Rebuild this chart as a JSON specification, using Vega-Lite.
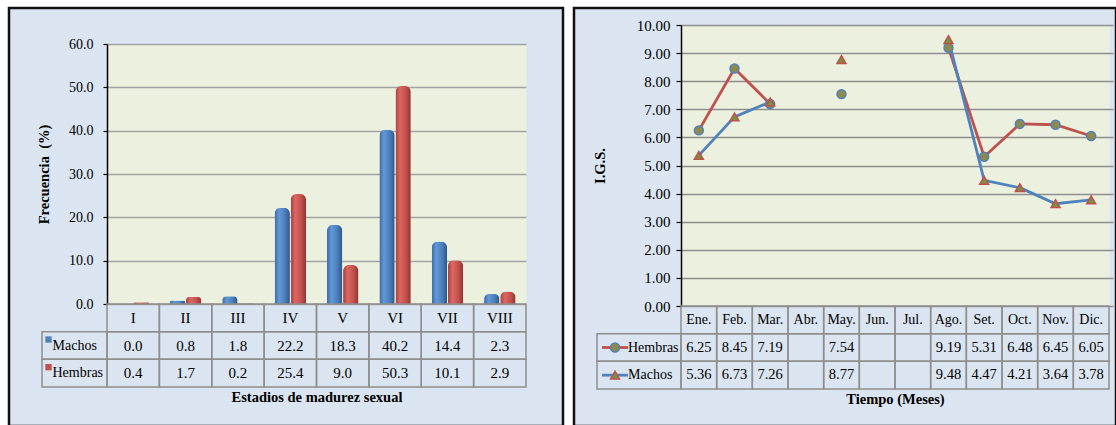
{
  "$schema": "https://vega.github.io/schema/vega-lite/v6.json",
  "background": "white",
  "padding": {"left": 7, "top": 5, "right": 0, "bottom": 0},
  "spacing": 11,
  "bounds": "flush",
  "config": {
    "view": {"fill": "#dbe5f1", "stroke": "#111111", "strokeWidth": 2.5},
    "font": "Liberation Serif",
    "axis": {
      "labelFont": "Liberation Serif",
      "titleFont": "Liberation Serif",
      "labelColor": "black",
      "titleColor": "black",
      "titleFontWeight": "bold",
      "domainColor": "black",
      "tickColor": "black",
      "grid": false
    },
    "text": {"font": "Liberation Serif", "color": "black"}
  },
  "datasets": {
    "madurez": [
      {"estadio": "I", "sexo": "Machos", "frecuencia": 0.0},
      {"estadio": "I", "sexo": "Hembras", "frecuencia": 0.4},
      {"estadio": "II", "sexo": "Machos", "frecuencia": 0.8},
      {"estadio": "II", "sexo": "Hembras", "frecuencia": 1.7},
      {"estadio": "III", "sexo": "Machos", "frecuencia": 1.8},
      {"estadio": "III", "sexo": "Hembras", "frecuencia": 0.2},
      {"estadio": "IV", "sexo": "Machos", "frecuencia": 22.2},
      {"estadio": "IV", "sexo": "Hembras", "frecuencia": 25.4},
      {"estadio": "V", "sexo": "Machos", "frecuencia": 18.3},
      {"estadio": "V", "sexo": "Hembras", "frecuencia": 9.0},
      {"estadio": "VI", "sexo": "Machos", "frecuencia": 40.2},
      {"estadio": "VI", "sexo": "Hembras", "frecuencia": 50.3},
      {"estadio": "VII", "sexo": "Machos", "frecuencia": 14.4},
      {"estadio": "VII", "sexo": "Hembras", "frecuencia": 10.1},
      {"estadio": "VIII", "sexo": "Machos", "frecuencia": 2.3},
      {"estadio": "VIII", "sexo": "Hembras", "frecuencia": 2.9}
    ],
    "igs": [
      {"mes": "Ene.", "sexo": "Hembras", "igs": 6.25},
      {"mes": "Feb.", "sexo": "Hembras", "igs": 8.45},
      {"mes": "Mar.", "sexo": "Hembras", "igs": 7.19},
      {"mes": "Abr.", "sexo": "Hembras", "igs": null},
      {"mes": "May.", "sexo": "Hembras", "igs": 7.54},
      {"mes": "Jun.", "sexo": "Hembras", "igs": null},
      {"mes": "Jul.", "sexo": "Hembras", "igs": null},
      {"mes": "Ago.", "sexo": "Hembras", "igs": 9.19},
      {"mes": "Set.", "sexo": "Hembras", "igs": 5.31},
      {"mes": "Oct.", "sexo": "Hembras", "igs": 6.48},
      {"mes": "Nov.", "sexo": "Hembras", "igs": 6.45},
      {"mes": "Dic.", "sexo": "Hembras", "igs": 6.05},
      {"mes": "Ene.", "sexo": "Machos", "igs": 5.36},
      {"mes": "Feb.", "sexo": "Machos", "igs": 6.73},
      {"mes": "Mar.", "sexo": "Machos", "igs": 7.26},
      {"mes": "Abr.", "sexo": "Machos", "igs": null},
      {"mes": "May.", "sexo": "Machos", "igs": 8.77},
      {"mes": "Jun.", "sexo": "Machos", "igs": null},
      {"mes": "Jul.", "sexo": "Machos", "igs": null},
      {"mes": "Ago.", "sexo": "Machos", "igs": 9.48},
      {"mes": "Set.", "sexo": "Machos", "igs": 4.47},
      {"mes": "Oct.", "sexo": "Machos", "igs": 4.21},
      {"mes": "Nov.", "sexo": "Machos", "igs": 3.64},
      {"mes": "Dic.", "sexo": "Machos", "igs": 3.78}
    ]
  },
  "hconcat": [
    {
      "width": 554,
      "height": 418,
      "data": {"name": "madurez"},
      "resolve": {"scale": {"x": "independent", "y": "independent", "xOffset": "independent"}},
      "layer": [
        {
          "transform": [{"filter": "datum.sexo === 'Machos'"}],
          "mark": {
            "type": "bar",
            "cornerRadiusTopLeft": 6,
            "cornerRadiusTopRight": 6,
            "color": {
              "gradient": "linear", "x1": 0, "y1": 0, "x2": 1, "y2": 0,
              "stops": [
                {"offset": 0, "color": "#3a6aa6"},
                {"offset": 0.3, "color": "#6398d8"},
                {"offset": 0.7, "color": "#4a7cb9"},
                {"offset": 1, "color": "#2c5689"}
              ]
            }
          },
          "encoding": {
            "x": {
              "field": "estadio", "type": "nominal", "sort": null,
              "scale": {"domain": ["I", "II", "III", "IV", "V", "VI", "VII", "VIII"], "range": [98, 517], "paddingInner": 0, "paddingOuter": 0},
              "axis": {"orient": "bottom", "offset": -122, "domain": false, "labels": false, "ticks": true, "tickSize": -260, "tickWidth": 54, "tickColor": "#ebf1de", "tickOpacity": 1, "bandPosition": 0.5, "title": null}
            },
            "xOffset": {"field": "sexo", "scale": {"domain": ["Machos", "Hembras"], "paddingInner": 0.05, "paddingOuter": 0.65}},
            "y": {
              "field": "frecuencia", "type": "quantitative",
              "scale": {"domain": [0, 60], "range": [296, 36], "nice": false},
              "axis": {"orient": "left", "offset": -98, "values": [0, 10, 20, 30, 40, 50, 60], "domain": false, "labels": false, "ticks": true, "tickSize": -419, "tickColor": "#a3a3a3", "tickWidth": 1.3, "tickOpacity": 1, "title": null}
            }
          }
        },
        {
          "transform": [{"filter": "datum.sexo === 'Hembras'"}],
          "mark": {
            "type": "bar",
            "cornerRadiusTopLeft": 6,
            "cornerRadiusTopRight": 6,
            "color": {
              "gradient": "linear", "x1": 0, "y1": 0, "x2": 1, "y2": 0,
              "stops": [
                {"offset": 0, "color": "#a8403d"},
                {"offset": 0.3, "color": "#dc6763"},
                {"offset": 0.7, "color": "#c0504d"},
                {"offset": 1, "color": "#913330"}
              ]
            }
          },
          "encoding": {
            "x": {
              "field": "estadio", "type": "nominal", "sort": null,
              "scale": {"domain": ["I", "II", "III", "IV", "V", "VI", "VII", "VIII"], "range": [98, 517], "paddingInner": 0, "paddingOuter": 0},
              "axis": null
            },
            "xOffset": {"field": "sexo", "scale": {"domain": ["Machos", "Hembras"], "paddingInner": 0.05, "paddingOuter": 0.65}},
            "y": {
              "field": "frecuencia", "type": "quantitative",
              "scale": {"domain": [0, 60], "range": [296, 36], "nice": false},
              "axis": {
                "orient": "left", "offset": -98, "values": [0, 10, 20, 30, 40, 50, 60], "format": ".1f",
                "title": "Frecuencia\u00a0\u00a0(%)", "titleFontSize": 14.5, "titlePadding": 17,
                "labelFontSize": 14, "labelPadding": 10, "tickSize": 4, "domainWidth": 1.5, "tickWidth": 1.2
              }
            }
          }
        },
        {
          "mark": {"type": "rect", "filled": false, "stroke": "#8e8e8e", "strokeWidth": 1.5},
          "encoding": {
            "x": {"field": "estadio", "type": "nominal", "sort": null, "scale": {"domain": ["I", "II", "III", "IV", "V", "VI", "VII", "VIII"], "range": [98, 517], "paddingInner": 0, "paddingOuter": 0}, "axis": null},
            "y": {"field": "sexo", "type": "nominal", "scale": {"domain": ["Estadios", "Machos", "Hembras"], "range": [296, 379], "paddingInner": 0, "paddingOuter": 0}, "axis": null}
          }
        },
        {
          "transform": [{"filter": "datum.sexo === 'Machos'"}],
          "mark": {"type": "rect", "filled": false, "stroke": "#8e8e8e", "strokeWidth": 1.5},
          "encoding": {
            "x": {"field": "estadio", "type": "nominal", "sort": null, "scale": {"domain": ["I", "II", "III", "IV", "V", "VI", "VII", "VIII"], "range": [98, 517], "paddingInner": 0, "paddingOuter": 0}, "axis": null},
            "y": {"datum": "Estadios", "type": "nominal", "scale": {"domain": ["Estadios", "Machos", "Hembras"], "range": [296, 379], "paddingInner": 0, "paddingOuter": 0}, "axis": null}
          }
        },
        {
          "mark": {"type": "text", "fontSize": 15},
          "encoding": {
            "x": {
              "field": "estadio", "type": "nominal", "sort": null,
              "scale": {"domain": ["I", "II", "III", "IV", "V", "VI", "VII", "VIII"], "range": [98, 517], "paddingInner": 0, "paddingOuter": 0},
              "axis": {"orient": "bottom", "offset": -39, "labels": false, "ticks": false, "domain": false, "title": "Estadios de madurez sexual", "titleFontSize": 14.5, "titlePadding": 3}
            },
            "y": {"field": "sexo", "type": "nominal", "scale": {"domain": ["Estadios", "Machos", "Hembras"], "range": [296, 379], "paddingInner": 0, "paddingOuter": 0}, "axis": null},
            "text": {"field": "frecuencia", "type": "quantitative", "format": ".1f"}
          }
        },
        {
          "transform": [{"filter": "datum.sexo === 'Machos'"}],
          "mark": {"type": "text", "fontSize": 15},
          "encoding": {
            "x": {"field": "estadio", "type": "nominal", "sort": null, "scale": {"domain": ["I", "II", "III", "IV", "V", "VI", "VII", "VIII"], "range": [98, 517], "paddingInner": 0, "paddingOuter": 0}, "axis": null},
            "y": {"datum": "Estadios", "type": "nominal", "scale": {"domain": ["Estadios", "Machos", "Hembras"], "range": [296, 379], "paddingInner": 0, "paddingOuter": 0}, "axis": null},
            "text": {"field": "estadio", "type": "nominal"}
          }
        },
        {
          "transform": [{"filter": "datum.estadio === 'I'"}],
          "mark": {"type": "rect", "filled": false, "stroke": "#8e8e8e", "strokeWidth": 1.5},
          "encoding": {
            "x": {"datum": "serie", "type": "nominal", "scale": {"domain": ["serie"], "range": [33, 98], "paddingInner": 0, "paddingOuter": 0}, "axis": null},
            "y": {"field": "sexo", "type": "nominal", "scale": {"domain": ["Estadios", "Machos", "Hembras"], "range": [296, 379], "paddingInner": 0, "paddingOuter": 0}, "axis": null}
          }
        },
        {
          "transform": [{"filter": "datum.estadio === 'I'"}],
          "mark": {"type": "point", "shape": "square", "filled": true, "size": 40, "opacity": 1, "xOffset": -26, "yOffset": -6},
          "encoding": {
            "x": {"datum": "serie", "type": "nominal", "scale": {"domain": ["serie"], "range": [33, 98], "paddingInner": 0, "paddingOuter": 0}, "axis": null},
            "y": {"field": "sexo", "type": "nominal", "scale": {"domain": ["Estadios", "Machos", "Hembras"], "range": [296, 379], "paddingInner": 0, "paddingOuter": 0}, "axis": null},
            "color": {"field": "sexo", "type": "nominal", "scale": {"domain": ["Machos", "Hembras"], "range": ["#4f81bd", "#c0504d"]}, "legend": null}
          }
        },
        {
          "transform": [{"filter": "datum.estadio === 'I'"}],
          "mark": {"type": "text", "fontSize": 14, "align": "left", "dx": -22},
          "encoding": {
            "x": {"datum": "serie", "type": "nominal", "scale": {"domain": ["serie"], "range": [33, 98], "paddingInner": 0, "paddingOuter": 0}, "axis": null},
            "y": {"field": "sexo", "type": "nominal", "scale": {"domain": ["Estadios", "Machos", "Hembras"], "range": [296, 379], "paddingInner": 0, "paddingOuter": 0}, "axis": null},
            "text": {"field": "sexo", "type": "nominal"}
          }
        }
      ]
    },
    {
      "width": 542,
      "height": 418,
      "data": {"name": "igs"},
      "resolve": {"scale": {"x": "independent", "y": "independent"}},
      "layer": [
        {
          "mark": {"type": "line", "strokeWidth": 2.8, "invalid": "break-paths-show-domains"},
          "encoding": {
            "x": {
              "field": "mes", "type": "nominal", "sort": null,
              "scale": {"domain": ["Ene.", "Feb.", "Mar.", "Abr.", "May.", "Jun.", "Jul.", "Ago.", "Set.", "Oct.", "Nov.", "Dic."], "range": [107, 535], "paddingInner": 0, "paddingOuter": 0},
              "axis": {"orient": "bottom", "offset": -120, "domain": false, "labels": false, "ticks": true, "tickSize": -281, "tickWidth": 36.5, "tickColor": "#ebf1de", "tickOpacity": 1, "bandPosition": 0.5, "title": null}
            },
            "y": {
              "field": "igs", "type": "quantitative",
              "scale": {"domain": [0, 10], "range": [298, 17], "nice": false},
              "axis": {"orient": "left", "offset": -107, "values": [0, 1, 2, 3, 4, 5, 6, 7, 8, 9, 10], "domain": false, "labels": false, "ticks": true, "tickSize": -432, "tickColor": "#8f8f8f", "tickWidth": 1.4, "tickOpacity": 1, "title": null}
            },
            "color": {"field": "sexo", "type": "nominal", "scale": {"domain": ["Hembras", "Machos"], "range": ["#8e302d", "#5696dc"]}, "legend": null}
          }
        },
        {
          "transform": [{"filter": "isValid(datum.igs)"}],
          "mark": {"type": "point", "filled": true, "size": 80, "strokeWidth": 1.5, "opacity": 1},
          "encoding": {
            "x": {"field": "mes", "type": "nominal", "sort": null, "scale": {"domain": ["Ene.", "Feb.", "Mar.", "Abr.", "May.", "Jun.", "Jul.", "Ago.", "Set.", "Oct.", "Nov.", "Dic."], "range": [107, 535], "paddingInner": 0, "paddingOuter": 0}, "axis": null},
            "y": {
              "field": "igs", "type": "quantitative",
              "scale": {"domain": [0, 10], "range": [298, 17], "nice": false},
              "axis": {
                "orient": "left", "offset": -107, "values": [0, 1, 2, 3, 4, 5, 6, 7, 8, 9, 10], "format": ".2f",
                "title": "I.G.S.", "titleFontSize": 14.5, "titlePadding": 29,
                "labelFontSize": 15, "labelPadding": 6, "tickSize": 5, "domainWidth": 1.5, "tickWidth": 1.2
              }
            },
            "shape": {"field": "sexo", "type": "nominal", "scale": {"domain": ["Hembras", "Machos"], "range": ["circle", "triangle-up"]}, "legend": null},
            "fill": {"field": "sexo", "type": "nominal", "scale": {"domain": ["Hembras", "Machos"], "range": ["#8c8a4e", "#77933c"]}, "legend": null},
            "stroke": {"field": "sexo", "type": "nominal", "scale": {"domain": ["Hembras", "Machos"], "range": ["#4f81bd", "#c0504d"]}, "legend": null}
          }
        },
        {
          "mark": {"type": "rect", "filled": false, "stroke": "#8e8e8e", "strokeWidth": 1.5},
          "encoding": {
            "x": {"field": "mes", "type": "nominal", "sort": null, "scale": {"domain": ["Ene.", "Feb.", "Mar.", "Abr.", "May.", "Jun.", "Jul.", "Ago.", "Set.", "Oct.", "Nov.", "Dic."], "range": [107, 535], "paddingInner": 0, "paddingOuter": 0}, "axis": null},
            "y": {"field": "sexo", "type": "nominal", "scale": {"domain": ["Meses", "Hembras", "Machos"], "range": [298, 381], "paddingInner": 0, "paddingOuter": 0}, "axis": null}
          }
        },
        {
          "transform": [{"filter": "datum.sexo === 'Hembras'"}],
          "mark": {"type": "rect", "filled": false, "stroke": "#8e8e8e", "strokeWidth": 1.5},
          "encoding": {
            "x": {"field": "mes", "type": "nominal", "sort": null, "scale": {"domain": ["Ene.", "Feb.", "Mar.", "Abr.", "May.", "Jun.", "Jul.", "Ago.", "Set.", "Oct.", "Nov.", "Dic."], "range": [107, 535], "paddingInner": 0, "paddingOuter": 0}, "axis": null},
            "y": {"datum": "Meses", "type": "nominal", "scale": {"domain": ["Meses", "Hembras", "Machos"], "range": [298, 381], "paddingInner": 0, "paddingOuter": 0}, "axis": null}
          }
        },
        {
          "transform": [{"filter": "isValid(datum.igs)"}],
          "mark": {"type": "text", "fontSize": 14.5},
          "encoding": {
            "x": {
              "field": "mes", "type": "nominal", "sort": null,
              "scale": {"domain": ["Ene.", "Feb.", "Mar.", "Abr.", "May.", "Jun.", "Jul.", "Ago.", "Set.", "Oct.", "Nov.", "Dic."], "range": [107, 535], "paddingInner": 0, "paddingOuter": 0},
              "axis": {"orient": "bottom", "offset": -37, "labels": false, "ticks": false, "domain": false, "title": "Tiempo (Meses)", "titleFontSize": 14.5, "titlePadding": 3}
            },
            "y": {"field": "sexo", "type": "nominal", "scale": {"domain": ["Meses", "Hembras", "Machos"], "range": [298, 381], "paddingInner": 0, "paddingOuter": 0}, "axis": null},
            "text": {"field": "igs", "type": "quantitative", "format": ".2f"}
          }
        },
        {
          "transform": [{"filter": "datum.sexo === 'Hembras'"}],
          "mark": {"type": "text", "fontSize": 14},
          "encoding": {
            "x": {"field": "mes", "type": "nominal", "sort": null, "scale": {"domain": ["Ene.", "Feb.", "Mar.", "Abr.", "May.", "Jun.", "Jul.", "Ago.", "Set.", "Oct.", "Nov.", "Dic."], "range": [107, 535], "paddingInner": 0, "paddingOuter": 0}, "axis": null},
            "y": {"datum": "Meses", "type": "nominal", "scale": {"domain": ["Meses", "Hembras", "Machos"], "range": [298, 381], "paddingInner": 0, "paddingOuter": 0}, "axis": null},
            "text": {"field": "mes", "type": "nominal"}
          }
        },
        {
          "transform": [{"filter": "datum.mes === 'Ene.'"}],
          "mark": {"type": "rect", "filled": false, "stroke": "#8e8e8e", "strokeWidth": 1.5},
          "encoding": {
            "x": {"datum": "serie", "type": "nominal", "scale": {"domain": ["serie"], "range": [23, 107], "paddingInner": 0, "paddingOuter": 0}, "axis": null},
            "y": {"field": "sexo", "type": "nominal", "scale": {"domain": ["Meses", "Hembras", "Machos"], "range": [298, 381], "paddingInner": 0, "paddingOuter": 0}, "axis": null}
          }
        },
        {
          "transform": [{"filter": "datum.mes === 'Ene.'"}],
          "mark": {"type": "point", "shape": "stroke", "filled": false, "size": 676, "strokeWidth": 2.8, "opacity": 1, "xOffset": -24},
          "encoding": {
            "x": {"datum": "serie", "type": "nominal", "scale": {"domain": ["serie"], "range": [23, 107], "paddingInner": 0, "paddingOuter": 0}, "axis": null},
            "y": {"field": "sexo", "type": "nominal", "scale": {"domain": ["Meses", "Hembras", "Machos"], "range": [298, 381], "paddingInner": 0, "paddingOuter": 0}, "axis": null},
            "color": {"field": "sexo", "type": "nominal", "scale": {"domain": ["Hembras", "Machos"], "range": ["#8e302d", "#5696dc"]}, "legend": null}
          }
        },
        {
          "transform": [{"filter": "datum.mes === 'Ene.'"}],
          "mark": {"type": "point", "filled": true, "size": 80, "strokeWidth": 1.5, "opacity": 1, "xOffset": -24},
          "encoding": {
            "x": {"datum": "serie", "type": "nominal", "scale": {"domain": ["serie"], "range": [23, 107], "paddingInner": 0, "paddingOuter": 0}, "axis": null},
            "y": {"field": "sexo", "type": "nominal", "scale": {"domain": ["Meses", "Hembras", "Machos"], "range": [298, 381], "paddingInner": 0, "paddingOuter": 0}, "axis": null},
            "shape": {"field": "sexo", "type": "nominal", "scale": {"domain": ["Hembras", "Machos"], "range": ["circle", "triangle-up"]}, "legend": null},
            "fill": {"field": "sexo", "type": "nominal", "scale": {"domain": ["Hembras", "Machos"], "range": ["#8c8a4e", "#77933c"]}, "legend": null},
            "stroke": {"field": "sexo", "type": "nominal", "scale": {"domain": ["Hembras", "Machos"], "range": ["#4f81bd", "#c0504d"]}, "legend": null}
          }
        },
        {
          "transform": [{"filter": "datum.mes === 'Ene.'"}],
          "mark": {"type": "text", "fontSize": 14, "align": "left", "dx": -11},
          "encoding": {
            "x": {"datum": "serie", "type": "nominal", "scale": {"domain": ["serie"], "range": [23, 107], "paddingInner": 0, "paddingOuter": 0}, "axis": null},
            "y": {"field": "sexo", "type": "nominal", "scale": {"domain": ["Meses", "Hembras", "Machos"], "range": [298, 381], "paddingInner": 0, "paddingOuter": 0}, "axis": null},
            "text": {"field": "sexo", "type": "nominal"}
          }
        }
      ]
    }
  ]
}
